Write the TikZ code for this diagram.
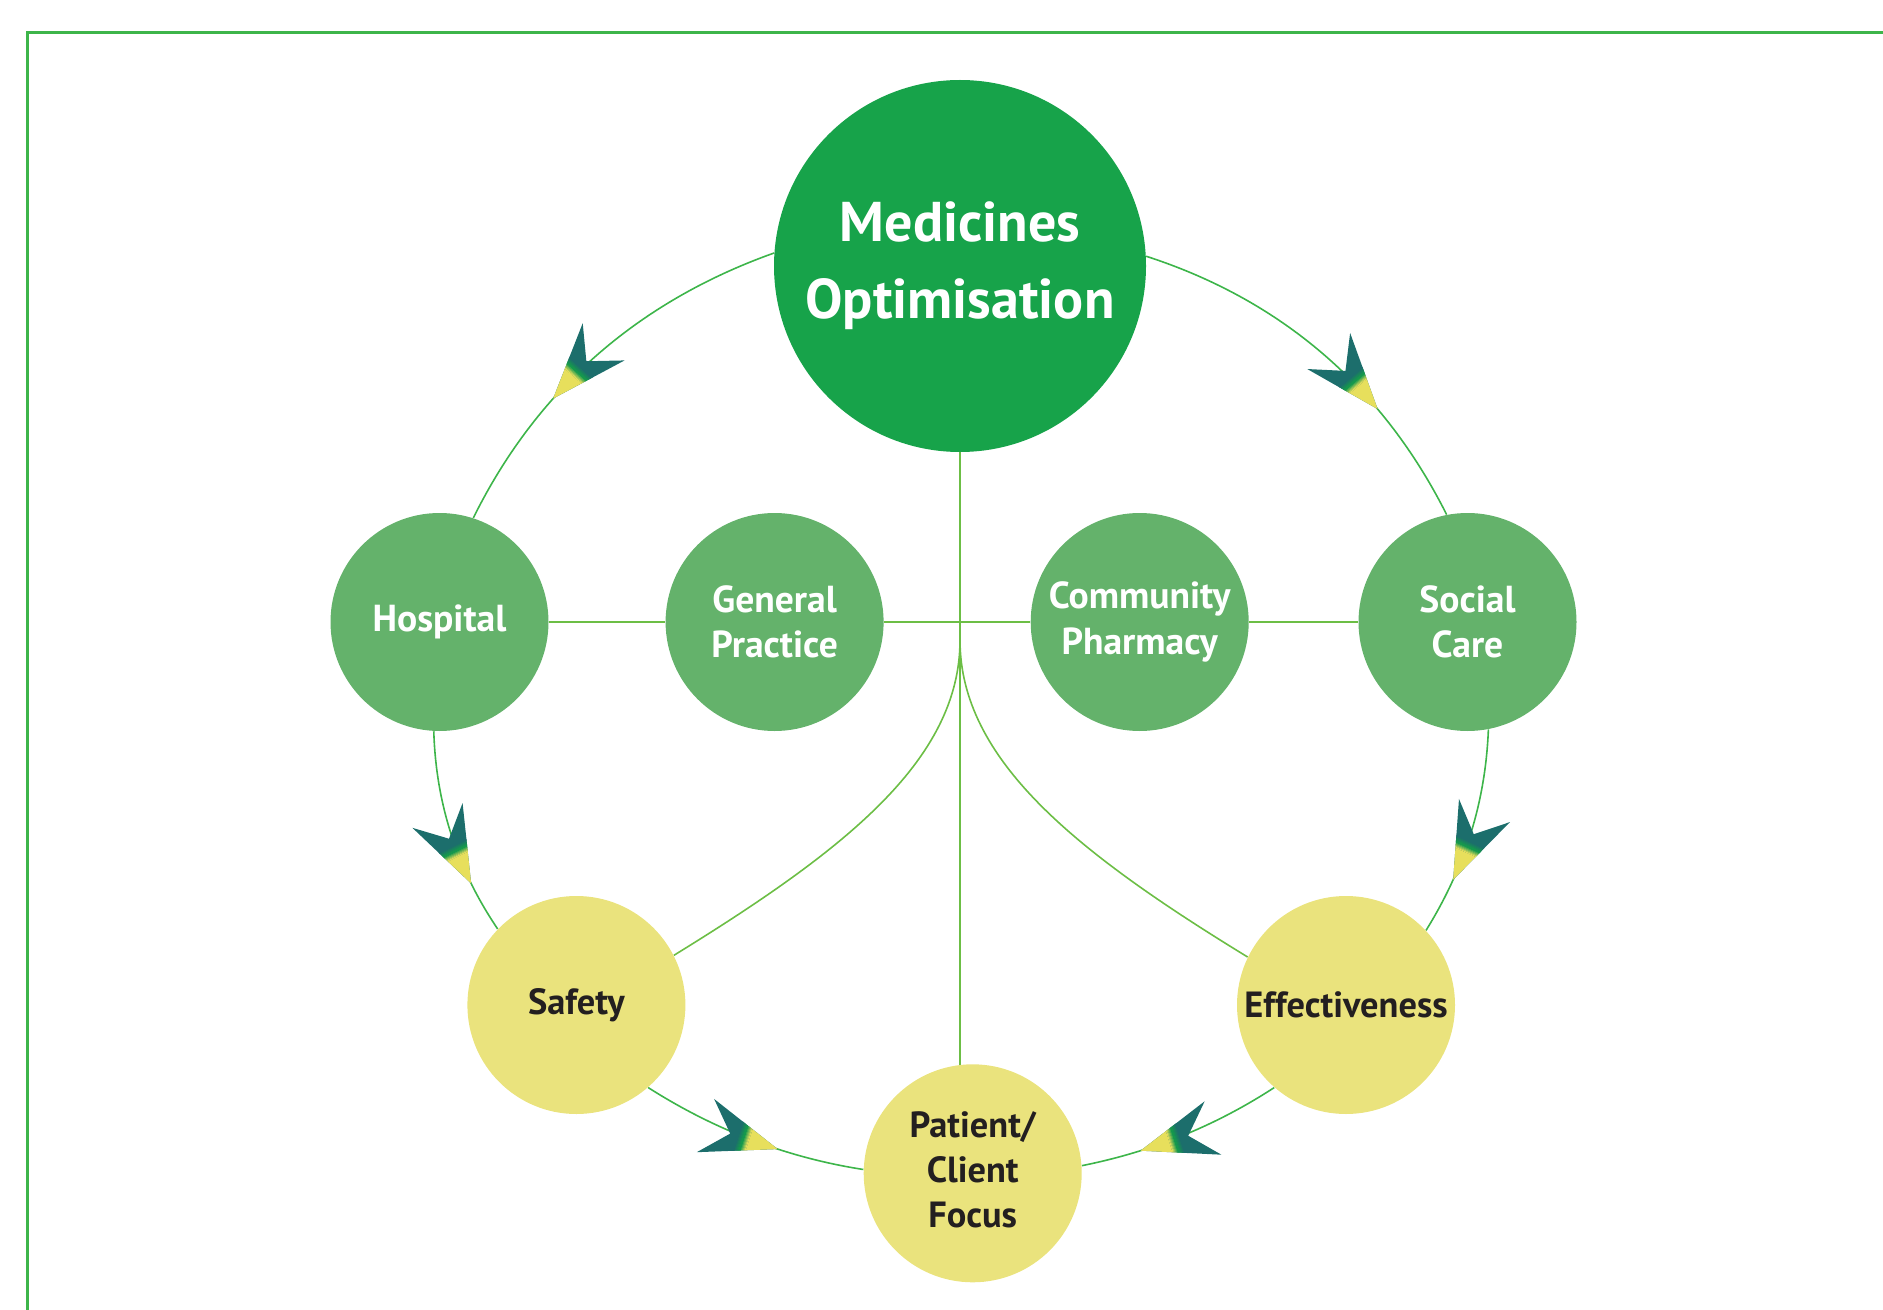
\documentclass[tikz,border=0pt]{standalone}
\usepackage{fontspec}
\setmainfont{PT Sans}
\usetikzlibrary{decorations.markings,backgrounds}
\definecolor{moGreen}{HTML}{17A34A}
\definecolor{subGreen}{HTML}{64B26B}
\definecolor{yelFill}{HTML}{EAE37D}
\definecolor{txtDark}{HTML}{231F20}
\definecolor{borderGreen}{HTML}{3DB54A}
\definecolor{arcGreen}{HTML}{3DB54A}
\definecolor{lineGreen}{HTML}{6CBE45}
\definecolor{arrTeal}{HTML}{1C6E6C}
\definecolor{arrGrn}{HTML}{159A4C}
\definecolor{arrYel}{HTML}{E7DF5C}
\newcommand\gradarrow{%
  \begin{scope}
    \clip (0pt,0pt) -- (-38pt,14pt) -- (-25pt,0pt) -- (-38pt,-14pt) -- cycle;
    \fill[arrTeal] (-40pt,-16pt) rectangle (2pt,16pt);
    \fill[arrYel] (-15pt,-16pt) rectangle (2pt,16pt);
    \foreach \k in {0,...,11}{%
      \pgfmathsetmacro\xa{-15-0.5*\k}%
      \pgfmathsetmacro\xb{\xa-0.6}%
      \ifnum\k<6
        \pgfmathtruncatemacro\p{\k*20}%
        \fill[arrGrn!\p!arrYel] (\xa pt,-16pt) rectangle (\xb pt,16pt);
      \else
        \pgfmathtruncatemacro\p{(\k-6)*20}%
        \fill[arrTeal!\p!arrGrn] (\xa pt,-16pt) rectangle (\xb pt,16pt);
      \fi}
  \end{scope}}
\begin{document}
\begin{tikzpicture}[x=0.5pt,y=-0.5pt,
  bigc/.style={circle, fill=moGreen, inner sep=0pt, minimum size=186pt, text=white,
    font=\fontsize{28}{38.5}\selectfont\bfseries, align=center},
  subc/.style={circle, fill=subGreen, inner sep=0pt, minimum size=109pt, text=white,
    font=\fontsize{18.8}{22.75}\selectfont\bfseries, align=center},
  yelc/.style={circle, fill=yelFill, inner sep=0pt, minimum size=109pt, text=txtDark,
    font=\fontsize{18.2}{22.5}\selectfont\bfseries, align=center},
  arc/.style={draw=arcGreen, line width=0.8pt},
  inner/.style={draw=lineGreen, line width=0.8pt},
  flow/.style={arc, postaction={decorate},
    decoration={markings, mark=at position #1 with {\gradarrow}}}]
\useasboundingbox (0,0) rectangle (1883,1310);
\begin{scope}
  \clip (0,0) rectangle (1883,1310);
  \draw[draw=borderGreen, line width=1.5pt] (27,33) rectangle (1950,1400);
\end{scope}

\node[bigc] (MO) at (960,266) {Medicines\\Optimisation};
\node[subc] (Hosp) at (439.5,622) {Hospital};
\node[subc] (GP) at (774.6,622) {General\\Practice};
\node[subc] (CP) at (1139.7,622) {Community\\Pharmacy};
\node[subc] (Soc) at (1467.5,622) {Social\\Care};
\node[yelc] (Saf) at (576.4,1005) {Safety};
\node[yelc] (Eff) at (1346,1005) {Effectiveness};
\node[yelc] (Pat) at (972.7,1173.3) {Patient/\\Client\\Focus\vphantom{y}};
\coordinate (J) at (960,640);

\begin{pgfonlayer}{background}
  \draw[inner] (Hosp.east) -- (GP.west);
  \draw[inner] (GP.east) -- (CP.west);
  \draw[inner] (CP.east) -- (Soc.west);
  \draw[inner] (MO.south) -- (MO.south |- Pat.center);
  \draw[inner] (J) .. controls (960,760) and (845,850) .. (Saf.27);
  \draw[inner] (J) .. controls (960,760) and (1076,852) .. (Eff.154.2);

  \draw[flow=0.65] (MO.176.5) .. controls (637.8,301.6) and (536.8,389.6) .. (Hosp.72.5);
  \draw[flow=0.69] (MO.3.5) .. controls (1282.3,300.4) and (1382.7,387.4) .. (Soc.101);
  \draw[flow=0.75] (Hosp.267) .. controls (435.9,802.4) and (456.4,868) .. (Saf.136.7);
  \draw[flow=0.73] (Soc.281) .. controls (1485.5,802.1) and (1464.9,867.7) .. (Eff.43.5);
  \draw[flow=0.62] (Saf.-49.4) .. controls (715.2,1130.3) and (787.3,1157.7) .. (Pat.178.8);
  \draw[flow=0.71] (Eff.229) .. controls (1214.5,1126.4) and (1151.1,1151.8) .. (Pat.4.3);
\end{pgfonlayer}
\end{tikzpicture}
\end{document}
